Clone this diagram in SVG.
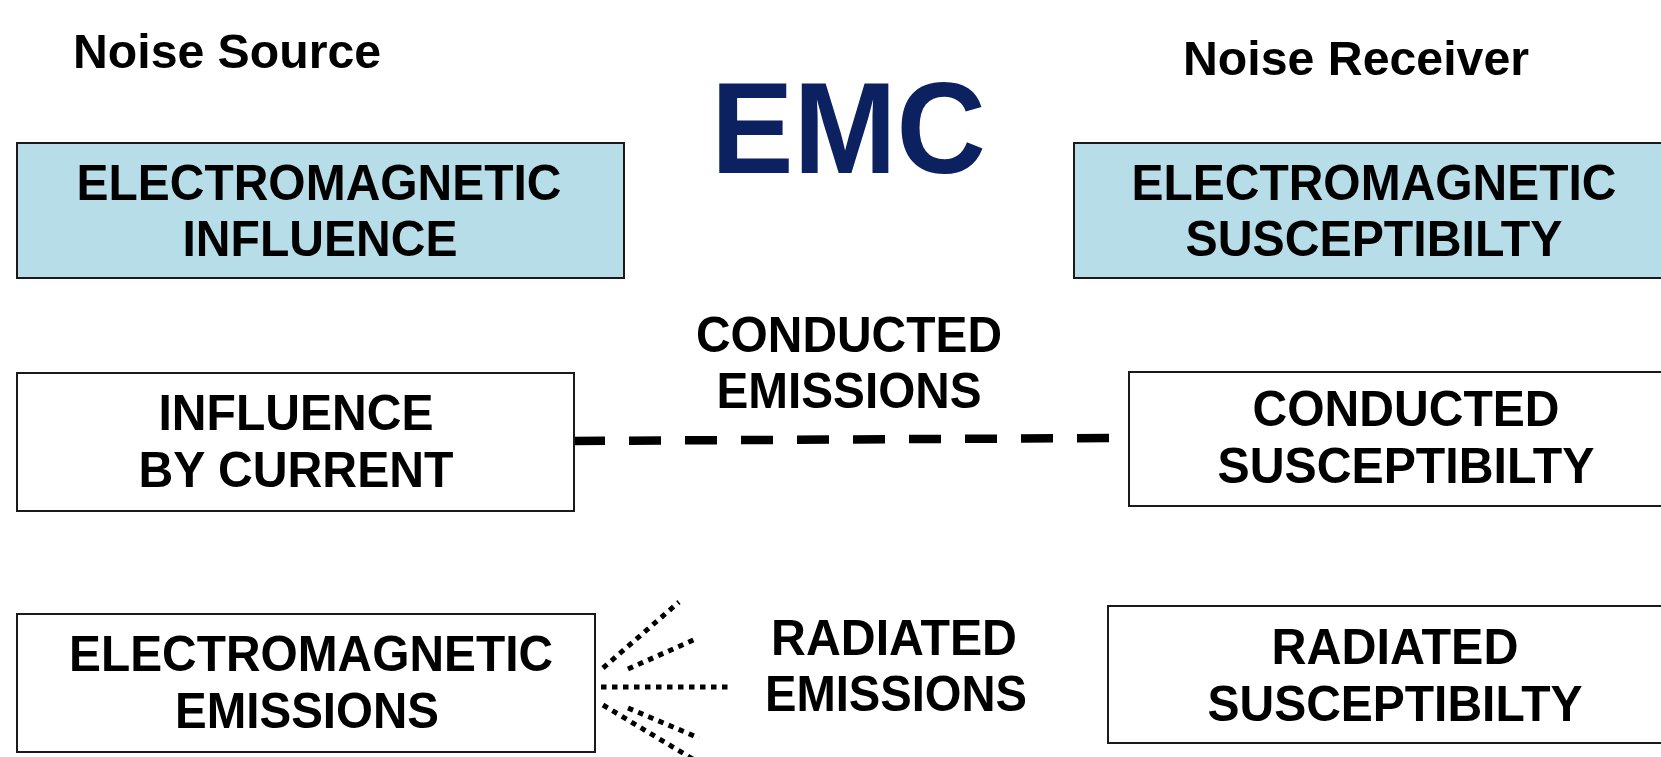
<svg xmlns="http://www.w3.org/2000/svg" width="1661" height="757" viewBox="0 0 1661 757">
<style>
text{font-family:"Liberation Sans",Arial,sans-serif;font-weight:bold;fill:#000}
.t{font-size:50px;text-anchor:middle}
.h{font-size:49px}
.box{fill:#fff;stroke:#1a1a1a;stroke-width:2}
.blue{fill:#b7dee8}
.dash{stroke:#000;stroke-width:8.5;stroke-dasharray:32 24;fill:none}
.dot{stroke:#000;stroke-width:5;stroke-dasharray:5.5 5.5;fill:none}
</style>
<rect width="1661" height="757" fill="#fff"/>
<g id="titles">
<text class="h" x="73" y="68" textLength="308" lengthAdjust="spacingAndGlyphs">Noise Source</text>
<text class="h" x="1183" y="75" textLength="346" lengthAdjust="spacingAndGlyphs">Noise Receiver</text>
<text x="711" y="173" font-size="130" style="fill:#0b2160" textLength="275" lengthAdjust="spacingAndGlyphs">EMC</text>
</g>
<g id="connectors">
<line class="dash" x1="573" y1="441" x2="1109" y2="438"/>
<line class="dot" x1="601" y1="687" x2="730" y2="687"/>
<line class="dot" x1="603" y1="668" x2="679" y2="602"/>
<line class="dot" x1="628" y1="669" x2="698" y2="638"/>
<line class="dot" x1="628" y1="708" x2="699" y2="738"/>
<line class="dot" x1="603" y1="705" x2="696" y2="761"/>
</g>
<g id="em-influence">
<rect class="box blue" x="17" y="143" width="607" height="135"/>
<text class="t" x="319" y="200" textLength="485" lengthAdjust="spacingAndGlyphs">ELECTROMAGNETIC</text>
<text class="t" x="320" y="256" textLength="275" lengthAdjust="spacingAndGlyphs">INFLUENCE</text>
</g>
<g id="em-susceptibility">
<rect class="box blue" x="1074" y="143" width="600" height="135"/>
<text class="t" x="1374" y="200" textLength="485" lengthAdjust="spacingAndGlyphs">ELECTROMAGNETIC</text>
<text class="t" x="1374" y="256" textLength="377" lengthAdjust="spacingAndGlyphs">SUSCEPTIBILTY</text>
</g>
<g id="influence-current">
<rect class="box" x="17" y="373" width="557" height="138"/>
<text class="t" x="296" y="430" textLength="275" lengthAdjust="spacingAndGlyphs">INFLUENCE</text>
<text class="t" x="296" y="487" textLength="315" lengthAdjust="spacingAndGlyphs">BY CURRENT</text>
</g>
<g id="conducted-susceptibility">
<rect class="box" x="1129" y="372" width="545" height="134"/>
<text class="t" x="1406" y="426" textLength="307" lengthAdjust="spacingAndGlyphs">CONDUCTED</text>
<text class="t" x="1406" y="483" textLength="377" lengthAdjust="spacingAndGlyphs">SUSCEPTIBILTY</text>
</g>
<g id="em-emissions">
<rect class="box" x="17" y="614" width="578" height="138"/>
<text class="t" x="311" y="671" textLength="484" lengthAdjust="spacingAndGlyphs">ELECTROMAGNETIC</text>
<text class="t" x="307" y="728" textLength="264" lengthAdjust="spacingAndGlyphs">EMISSIONS</text>
</g>
<g id="radiated-susceptibility">
<rect class="box" x="1108" y="606" width="566" height="137"/>
<text class="t" x="1395" y="664" textLength="247" lengthAdjust="spacingAndGlyphs">RADIATED</text>
<text class="t" x="1395" y="721" textLength="375" lengthAdjust="spacingAndGlyphs">SUSCEPTIBILTY</text>
</g>
<g id="labels">
<text class="t" x="849" y="352" textLength="306" lengthAdjust="spacingAndGlyphs">CONDUCTED</text>
<text class="t" x="849" y="408" textLength="265" lengthAdjust="spacingAndGlyphs">EMISSIONS</text>
<text class="t" x="894" y="655" textLength="246" lengthAdjust="spacingAndGlyphs">RADIATED</text>
<text class="t" x="896" y="711" textLength="262" lengthAdjust="spacingAndGlyphs">EMISSIONS</text>
</g>
</svg>
